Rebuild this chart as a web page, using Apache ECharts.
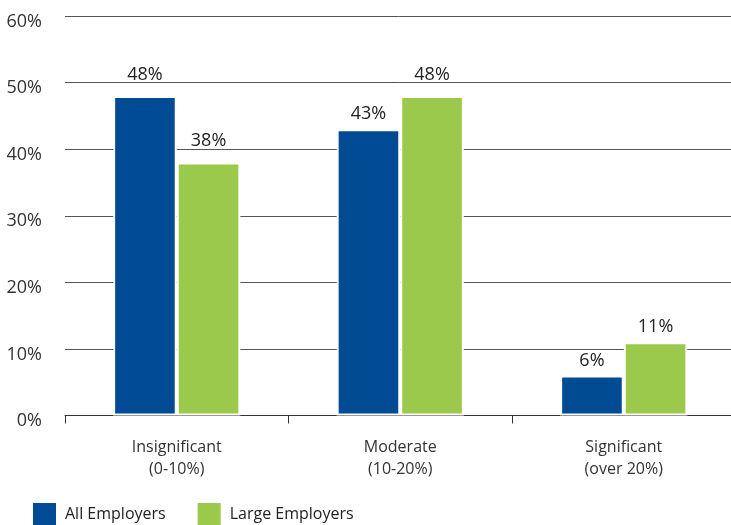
<!DOCTYPE html>
<html>
<head>
<meta charset="utf-8">
<script src="https://cdn.jsdelivr.net/npm/echarts@6/dist/echarts.min.js"></script>
<style>html,body{margin:0;padding:0;background:#fff;}#c{width:731px;height:525px;}</style>
</head>
<body>
<div id="c"></div>
<script>
const categories = ['Insignificant\n(0-10%)', 'Moderate\n(10-20%)', 'Significant\n(over 20%)'];
const allEmployers = [48, 43, 6];
const largeEmployers = [38, 48, 11];
const seriesNames = ['All Employers', 'Large Employers'];

const FONT = '"Open Sans", "Noto Sans", sans-serif';
const chart = echarts.init(document.getElementById('c'));
// raise labels that would otherwise sit on a gridline
function items(arr) {
  return arr.map(v => ({ value: v, label: { distance: (10 - v % 10) <= 3 ? 12.5 : 6 } }));
}
const labelCfg = {
  show: true, position: 'top',
  formatter: '{c}%', color: '#222', fontSize: 18, fontFamily: FONT
};
chart.setOption({
  animation: false,
  textStyle: { fontFamily: FONT },
  grid: { left: 65, top: 16, width: 670.5, height: 399.5, containLabel: false, outerBoundsMode: 'none' },
  legend: {
    left: 33, top: 503, padding: 0, itemWidth: 23, itemHeight: 23, itemGap: 32,
    icon: 'rect',
    itemStyle: { borderWidth: 0 },
    textStyle: { fontSize: 16, color: '#222', fontFamily: FONT, padding: [3, 0, 0, 4] },
    data: seriesNames
  },
  xAxis: {
    type: 'category', data: categories,
    axisLine: { lineStyle: { color: '#333', width: 1 } },
    axisTick: { show: true, length: 8, lineStyle: { color: '#333' } },
    axisLabel: { fontSize: 16, color: '#333', lineHeight: 22, margin: 21, fontFamily: FONT }
  },
  yAxis: {
    type: 'value', min: 0, max: 60, interval: 10,
    axisLine: { show: false }, axisTick: { show: false },
    axisLabel: { formatter: '{value}%', fontSize: 18, color: '#333', margin: 23, fontFamily: FONT,
      verticalAlign: 'top', lineHeight: 11 },
    splitLine: { lineStyle: { color: '#555', width: 1 } }
  },
  series: [
    { name: seriesNames[0], type: 'bar', data: items(allEmployers), barWidth: 63.6, barGap: '0%',
      itemStyle: { color: '#004B93', borderColor: '#fff', borderWidth: 2 }, label: labelCfg },
    { name: seriesNames[1], type: 'bar', data: items(largeEmployers), barWidth: 63.6,
      itemStyle: { color: '#9BC94B', borderColor: '#fff', borderWidth: 2 }, label: labelCfg }
  ]
});
</script>
</body>
</html>
